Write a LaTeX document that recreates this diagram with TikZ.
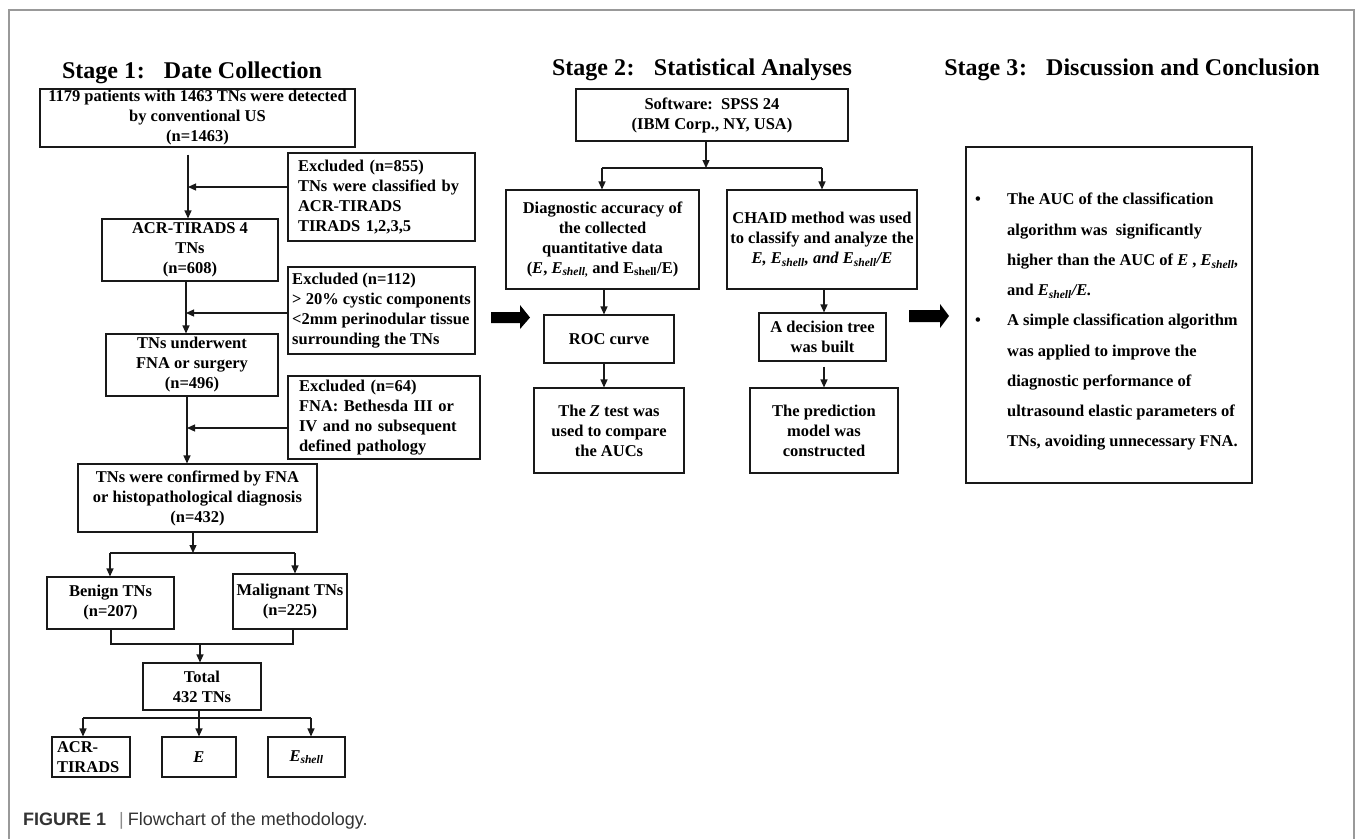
\documentclass[tikz,border=0pt]{standalone}
\usepackage{fontspec}
\setmainfont{Liberation Serif}
\setsansfont{Liberation Sans}
\usetikzlibrary{arrows.meta}
\newcommand{\bxf}{\fontsize{16.5}{20}\selectfont\bfseries}
\newcommand{\hdf}{\fontsize{24}{28}\selectfont\bfseries}
\newcommand{\Esh}{\textit{E}\textsubscript{\textit{shell}}}
\begin{document}
\begin{tikzpicture}[x=1pt,y=-1pt,
  box/.style={draw=black!90, line width=1.1pt, inner sep=0pt, align=center, font=\bxf},
  lbox/.style={box, align=left},
  head/.style={anchor=base, inner sep=0pt, font=\hdf},
  ln/.style={draw=black!90, line width=1.2pt},
  arr/.style={ln, -{Triangle[length=8pt,width=7pt]}},
  fat/.style={fill=black}]
\useasboundingbox (0,0) rectangle (1355,839);
\draw[black!40, line width=1.1pt] (9,839) -- (9,10) -- (1354,10) -- (1354,839);

% headings
\node[head] (t1) at (192,78) {Stage 1\hspace{0.03em}:\hspace{0.8em}Date Collection};
\node[head] (t2) at (702,75) {Stage 2\hspace{0.03em}:\hspace{0.8em}Statistical Analyses};
\node[head] (t3) at (1132,75) {Stage 3\hspace{0.03em}:\hspace{0.8em}Discussion and Conclusion};

% stage 1
\node[box, minimum width=315, minimum height=58] (b1) at (197.5,118) {1179 patients with 1463 TNs were detected\\by conventional US\\(n=1463)};
\node[lbox, minimum width=187, minimum height=88, inner xsep=10pt, text width=167pt] (x1) at (381.5,197) {Excluded (n=855)\\TNs were classified by\\ACR-TIRADS\\TIRADS 1,2,3,5};
\node[box, minimum width=176, minimum height=62] (b2) at (190,250) {ACR-TIRADS 4\\TNs\\(n=608)};
\node[lbox, minimum width=187, minimum height=87, inner xsep=4pt] (x2) at (381.5,310.5) {Excluded (n=112)\\> 20\% cystic components\\<2mm perinodular tissue\\surrounding the TNs};
\node[box, minimum width=172, minimum height=62] (b3) at (192,365) {TNs underwent\\FNA or surgery\\(n=496)};
\node[lbox, minimum width=192, minimum height=83, inner xsep=11pt, text width=170pt] (x3) at (384,417.5) {Excluded (n=64)\\FNA: Bethesda III or\\IV and no subsequent\\defined pathology};
\node[box, minimum width=239, minimum height=68] (b4) at (197.5,498) {TNs were confirmed by FNA\\or histopathological diagnosis\\(n=432)};
\node[box, minimum width=127, minimum height=52] (ben) at (110.5,603) {Benign TNs\\(n=207)};
\node[box, minimum width=114, minimum height=55] (mal) at (290,601.5) {Malignant TNs\\(n=225)};
\node[box, minimum width=118, minimum height=47] (tot) at (202,686.5) {Total\\432 TNs};
\node[lbox, minimum width=78, minimum height=40, inner xsep=5pt, text width=68pt] (e1) at (91,757) {ACR-\\TIRADS};
\node[box, minimum width=74, minimum height=40] (e2) at (199,757) {\textit{E}};
\node[box, minimum width=77, minimum height=40] (e3) at (306.5,757) {\Esh};

\coordinate (a1) at (188,187);
\coordinate (a2) at (186,313);
\coordinate (a3) at (187,428);
\draw[arr, shorten <=7pt] (b1.south -| a1) -- (b2.north -| a1);
\draw[arr] (x1.west |- a1) -- (a1);
\draw[arr] (b2.south -| a2) -- (b3.north -| a2);
\draw[arr] (x2.west |- a2) -- (a2);
\draw[arr] (b3.south -| a3) -- (b4.north -| a3);
\draw[arr] (x3.west |- a3) -- (a3);

\coordinate (s1) at (193,553);
\coordinate (s1L) at (110,553);
\coordinate (s1R) at (295,553);
\draw[arr] (b4.south -| s1) -- (s1);
\draw[ln] (s1L) -- (s1R);
\draw[arr] (s1L) -- (ben.north -| s1L);
\draw[arr] (s1R) -- (mal.north -| s1R);

\coordinate (m1L) at (111,644);
\coordinate (m1R) at (293,644);
\coordinate (m1) at (200,644);
\draw[ln] (ben.south -| m1L) -- (m1L) -- (m1R) -- (mal.south -| m1R);
\draw[arr] (m1) -- (tot.north -| m1);

\coordinate (s2) at (199,718);
\coordinate (s2L) at (83,718);
\coordinate (s2R) at (311,718);
\draw[ln] (tot.south -| s2) -- (s2);
\draw[ln] (s2L) -- (s2R);
\draw[arr] (s2L) -- (e1.north -| s2L);
\draw[arr] (s2) -- (e2.north -| s2);
\draw[arr] (s2R) -- (e3.north -| s2R);

% stage 2
\node[box, minimum width=272, minimum height=52] (sw) at (712,115) {Software:\ \ SPSS 24\\(IBM Corp., NY, USA)};
\node[box, minimum width=193, minimum height=99] (diag) at (602.5,239.5) {Diagnostic accuracy of\\the collected\\quantitative data\\(\textit{E}, \textit{E}\textsubscript{\textit{shell},} and E\textsubscript{shell}/E)};
\node[box, minimum width=190, minimum height=99] (chaid) at (822,239.5) {CHAID method was used\\to classify and analyze the\\\textit{E, E\textsubscript{shell}, and E\textsubscript{shell}/E}};
\node[box, minimum width=130, minimum height=48] (roc) at (609,339) {ROC curve};
\node[box, minimum width=150, minimum height=85] (zt) at (609,430.5) {The \textit{Z} test was\\used to compare\\the AUCs};
\node[box, minimum width=127, minimum height=48] (dt) at (822.5,337) {A decision tree\\was built};
\node[box, minimum width=148, minimum height=85] (pm) at (824,430.5) {The prediction\\model was\\constructed};

\coordinate (u) at (706,168);
\coordinate (uL) at (602,168);
\coordinate (uR) at (822,168);
\coordinate (v1) at (604,0);
\coordinate (v2) at (824,0);
\draw[arr] (sw.south -| u) -- (u);
\draw[ln] (uL) -- (uR);
\draw[arr] (uL) -- (diag.north -| uL);
\draw[arr] (uR) -- (chaid.north -| uR);
\draw[arr] (diag.south -| v1) -- (roc.north -| v1);
\draw[arr] (roc.south -| v1) -- (zt.north -| v1);
\draw[arr] (chaid.south -| v2) -- (dt.north -| v2);
\draw[arr, shorten <=5pt] (dt.south -| v2) -- (pm.north -| v2);

% big arrows between stages
\fill[fat] (491,312) -- (520,312) -- (520,305) -- (530,317.5) -- (520,329) -- (520,323) -- (491,323) -- cycle;
\fill[fat] (909,310) -- (940,310) -- (940,304) -- (949,316) -- (940,328) -- (940,322) -- (909,322) -- cycle;

% stage 3
\node[box, minimum width=286, minimum height=336] (st3) at (1109,315) {};
\node[anchor=west, align=left, inner sep=0pt, font=\fontsize{16.5}{30.25}\selectfont\bfseries] (st3t) at (975,322) {%
\makebox[32pt][l]{\textbullet}The AUC of the classification\\
\hspace*{32pt}algorithm was\ \ significantly\\
\hspace*{32pt}higher than the AUC of \textit{E} , \textit{E\textsubscript{shell},}\\
\hspace*{32pt}and \textit{E\textsubscript{shell}/E.}\\
\makebox[32pt][l]{\textbullet}A simple classification algorithm\\
\hspace*{32pt}was applied to improve the\\
\hspace*{32pt}diagnostic performance of\\
\hspace*{32pt}ultrasound elastic parameters of\\
\hspace*{32pt}TNs, avoiding unnecessary FNA.};

% caption
\node[anchor=base west, inner sep=0pt, font=\sffamily\fontsize{18}{20}\selectfont, text=black!80] (cap) at (23,825) {\textbf{FIGURE 1}\hspace{13pt}{\color{black!45}|}\hspace{4pt}Flowchart of the methodology.};
\end{tikzpicture}
\end{document}
